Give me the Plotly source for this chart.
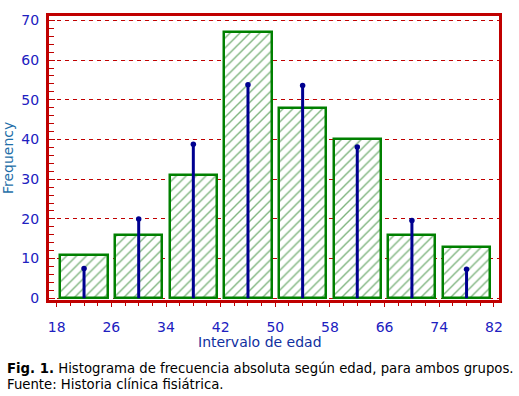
import plotly.graph_objects as go

# Data
bin_edges = [18, 26, 34, 42, 50, 58, 66, 74, 82]
bin_mids = [22, 30, 38, 46, 54, 62, 70, 78]
counts = [11, 16, 31, 67, 48, 40, 16, 13]
normal_fit = [7.5, 20, 38.8, 53.8, 53.6, 38.1, 19.6, 7.3]
y_ticks = [0, 10, 20, 30, 40, 50, 60, 70]

RED = "#c00000"
GREEN = "#008000"
NAVY = "#000090"

W, H = 519, 396
L, R, T, B = 49, 20, 14, 96
pw, ph = W - L - R, H - T - B


def px_x(p):
    return (p - L) / pw


def px_y(p):
    return (H - B - p) / ph


fig = go.Figure()

fig.add_trace(go.Bar(
    x=bin_mids, y=counts, width=6.9,
    marker=dict(
        color="white",
        line=dict(color=GREEN, width=2.5),
        pattern=dict(shape="/", fgcolor="#006a00", bgcolor="white", size=7, solidity=0.2),
    ),
    hoverinfo="skip", showlegend=False,
))

# stems built from the data
xs, ys = [], []
for m, v in zip(bin_mids, normal_fit):
    xs += [m, m, None]
    ys += [0, v, None]
fig.add_trace(go.Scatter(x=xs, y=ys, mode="lines",
                         line=dict(color=NAVY, width=3), showlegend=False, hoverinfo="skip"))
fig.add_trace(go.Scatter(x=bin_mids, y=normal_fit, mode="markers",
                         marker=dict(color=NAVY, size=5.5), showlegend=False, hoverinfo="skip"))

tickfont = dict(family="DejaVu Sans", size=14, color="#2020c0")

fig.update_layout(
    width=W, height=H,
    margin=dict(l=L, r=R, t=T, b=B),
    paper_bgcolor="white", plot_bgcolor="white",
    bargap=0,
    xaxis=dict(
        range=[16.87, 82.75], tickvals=bin_edges, ticktext=[str(e) for e in bin_edges],
        showgrid=False, zeroline=False,
        showline=True, mirror=True, linecolor=RED, linewidth=3,
        ticks="outside", ticklen=4, tickcolor=RED, tickwidth=1,
        minor=dict(dtick=2, tick0=18, ticks="outside", ticklen=3, tickcolor=RED, showgrid=False),
        tickfont=tickfont, ticklabelstandoff=8,
    ),
    yaxis=dict(
        range=[-0.43, 71.1], tickvals=y_ticks,
        showgrid=True, gridcolor=RED, gridwidth=1, griddash="4px,4px",
        zeroline=False,
        showline=True, mirror=True, linecolor=RED, linewidth=3,
        ticks="inside", ticklen=6, tickcolor=RED, tickwidth=1,
        minor=dict(dtick=2, tick0=0, ticks="inside", ticklen=5, tickcolor=RED, showgrid=False),
        tickfont=tickfont, ticklabelstandoff=4,
    ),
    annotations=[
        dict(text="Frequency", textangle=-90, xref="paper", yref="paper",
             x=px_x(8), y=px_y(157), xanchor="center", yanchor="middle", showarrow=False,
             font=dict(family="DejaVu Sans", size=14, color="#1f6fa8")),
        dict(text="Intervalo de edad", xref="paper", yref="paper",
             x=px_x(260), y=px_y(342), xanchor="center", yanchor="middle", showarrow=False,
             font=dict(family="DejaVu Sans", size=14, color="#1030a0")),
        dict(text="<b>Fig. 1.</b> Histograma de frecuencia absoluta según edad, para ambos grupos.",
             xref="paper", yref="paper", x=px_x(5), y=px_y(369), xanchor="left", yanchor="middle",
             showarrow=False, font=dict(family="DejaVu Sans", size=13.25, color="black")),
        dict(text="Fuente: Historia clínica fisiátrica.",
             xref="paper", yref="paper", x=px_x(5), y=px_y(385), xanchor="left", yanchor="middle",
             showarrow=False, font=dict(family="DejaVu Sans", size=13.25, color="black")),
    ],
)

fig.write_html("out.html")
